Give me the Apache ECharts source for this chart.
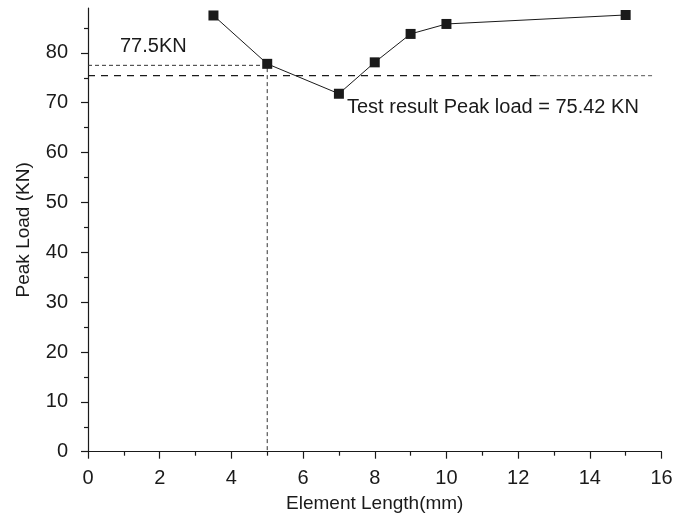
<!DOCTYPE html>
<html>
<head>
<meta charset="utf-8">
<style>
  html, body { margin: 0; padding: 0; background: #fff; }
  #chart { width: 691px; height: 516px; }
</style>
<script src="https://cdn.jsdelivr.net/npm/echarts@6/dist/echarts.min.js"></script>
</head>
<body>
<div id="chart"></div>
<script>
// Peak load against element length
const elementLength = [3.5, 5, 7, 8, 9, 10, 15];
const peakLoad = [87.5, 77.8, 71.8, 78.1, 83.8, 85.8, 87.6];

// reference levels
const chosenLength = 5;
const chosenLoad = 77.5;
const testPeakLoad = 75.42;
const testLineSplit = 12.5;   // long dashes up to here, fine dashes beyond
const testLineEnd = 15.8;

const yMajorTicks = [0, 10, 20, 30, 40, 50, 60, 70, 80];
const yMinorTicks = [5, 15, 25, 35, 45, 55, 65, 75, 85];

const FONT = 'Liberation Sans, Arial, sans-serif';
const INK = '#1a1a1a';

const chart = echarts.init(document.getElementById('chart'), null, { renderer: 'canvas' });

const option = {
  animation: false,
  backgroundColor: '#fff',
  grid: {
    left: 88, right: 29.5, top: 8, bottom: 64.3,
    containLabel: false,
    outerBoundsMode: 'none'
  },
  xAxis: {
    type: 'value',
    min: 0, max: 16, interval: 2,
    name: 'Element Length(mm)',
    nameLocation: 'middle',
    nameGap: 43,
    nameTextStyle: { fontFamily: FONT, fontSize: 19, color: INK },
    axisLine: { show: true, onZero: false, lineStyle: { color: INK, width: 1.2 } },
    axisTick: { show: true, inside: false, length: 7, lineStyle: { color: INK, width: 1.2 } },
    minorTick: { show: true, splitNumber: 2, length: 4, lineStyle: { color: INK, width: 1.2 } },
    axisLabel: { fontFamily: FONT, fontSize: 20, color: INK, margin: 17 },
    splitLine: { show: false }
  },
  yAxis: [{
    type: 'value',
    min: 0, max: 89,
    name: 'Peak Load (KN)',
    nameLocation: 'middle',
    nameGap: 55,
    nameTextStyle: { fontFamily: FONT, fontSize: 19, color: INK },
    axisLine: { show: true, onZero: false, lineStyle: { color: INK, width: 1.2 } },
    axisTick: { show: true, inside: false, length: 7, customValues: yMajorTicks, lineStyle: { color: INK, width: 1.2 } },
    axisLabel: { fontFamily: FONT, fontSize: 20, color: INK, margin: 20, customValues: yMajorTicks },
    splitLine: { show: false }
  }, {
    type: 'value',
    min: 0, max: 89,
    position: 'left',
    axisLine: { show: false },
    axisTick: { show: true, inside: false, length: 4, customValues: yMinorTicks, lineStyle: { color: INK, width: 1.2 } },
    axisLabel: { show: false },
    splitLine: { show: false }
  }],
  series: [
    {
      name: 'chosen',
      type: 'line',
      data: [[0, chosenLoad], [chosenLength, chosenLoad], [chosenLength, 0]],
      symbol: 'none',
      lineStyle: { color: '#333', width: 1, type: [4, 3] },
      z: 1
    },
    {
      name: 'testLong',
      type: 'line',
      data: [[0, testPeakLoad], [testLineSplit, testPeakLoad]],
      symbol: 'none',
      lineStyle: { color: INK, width: 1.3, type: [7, 6] },
      z: 1
    },
    {
      name: 'testFine',
      type: 'line',
      data: [[testLineSplit, testPeakLoad], [testLineEnd, testPeakLoad]],
      symbol: 'none',
      lineStyle: { color: '#555', width: 1, type: [4, 3] },
      z: 1
    },
    {
      name: 'Peak load',
      type: 'line',
      data: elementLength.map((x, i) => [x, peakLoad[i]]),
      symbol: 'rect',
      symbolSize: 10,
      itemStyle: { color: INK, borderWidth: 0 },
      lineStyle: { color: INK, width: 1 },
      z: 3
    }
  ],
  graphic: [
    {
      type: 'text',
      left: 120, top: 36,
      style: { text: '77.5KN', font: '20px ' + FONT, fill: INK }
    },
    {
      type: 'text',
      left: 347, top: 97,
      style: { text: 'Test result Peak load = 75.42 KN', font: '20px ' + FONT, fill: INK }
    }
  ]
};

chart.setOption(option);
</script>
</body>
</html>
